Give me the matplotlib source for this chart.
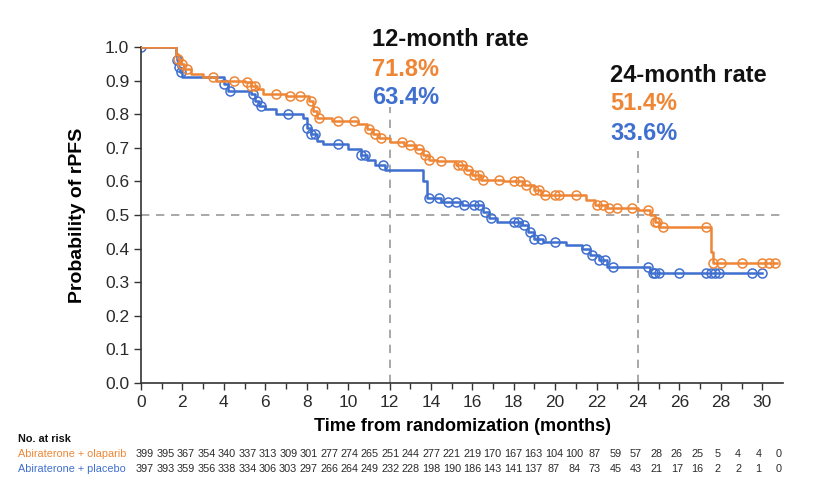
import matplotlib
matplotlib.use("Agg")
import matplotlib.pyplot as plt
import numpy as np

plt.rcParams['font.family'] = ['Liberation Sans', 'DejaVu Sans']

# Kaplan-Meier step data (time in months, survival)
ola_t = [0, 1.7, 1.8, 1.9, 2.1, 2.4, 3.0, 3.6, 5.0, 5.3, 5.6, 5.9, 7.0, 8.1, 8.3, 8.5,
         9.2, 10.5, 10.9, 11.2, 11.5, 12.0, 12.7, 13.3, 13.6, 13.9, 14.3, 15.2, 15.7,
         16.0, 16.4, 17.5, 18.5, 19.0, 19.3, 21.5, 21.9, 22.5, 24.0, 24.6, 24.8, 25.0,
         27.5, 27.6, 30.7]
ola_s = [1.0, 0.98, 0.965, 0.95, 0.935, 0.92, 0.91, 0.90, 0.895, 0.885, 0.875, 0.86,
         0.855, 0.84, 0.81, 0.79, 0.78, 0.77, 0.755, 0.74, 0.728, 0.718, 0.708, 0.695,
         0.68, 0.665, 0.66, 0.65, 0.635, 0.62, 0.605, 0.60, 0.59, 0.575, 0.56, 0.545,
         0.53, 0.52, 0.514, 0.50, 0.48, 0.465, 0.39, 0.357, 0.357]
ola_cens = [1.8, 2.0, 2.2, 3.5, 4.5, 5.1, 5.3, 5.5, 6.5, 7.2, 7.7, 8.2, 8.4, 8.6, 9.5,
            10.3, 11.0, 11.3, 11.6, 12.6, 13.0, 13.4, 13.7, 13.9, 14.5, 15.3, 15.5,
            15.8, 16.1, 16.3, 16.5, 17.3, 18.0, 18.3, 18.6, 19.0, 19.2, 19.5, 20.0,
            20.2, 21.0, 22.0, 22.3, 22.6, 23.0, 23.7, 24.5, 24.8, 24.9, 25.2, 27.3,
            27.6, 28.0, 29.0, 30.0, 30.3, 30.6]

pla_t = [0, 1.7, 1.75, 1.8, 1.9, 2.0, 4.0, 4.2, 5.3, 5.5, 5.7, 6.0, 6.5, 7.8, 8.0, 8.2,
         8.5, 8.8, 10.0, 10.6, 10.9, 11.3, 11.8, 13.6, 13.8, 14.5, 15.5, 16.5, 16.8,
         17.2, 18.4, 18.7, 19.0, 19.4, 20.5, 21.3, 21.7, 22.1, 22.5, 24.6, 30.0]
pla_s = [1.0, 0.98, 0.96, 0.94, 0.925, 0.91, 0.89, 0.87, 0.86, 0.84, 0.825, 0.815,
         0.80, 0.79, 0.76, 0.74, 0.72, 0.71, 0.695, 0.68, 0.665, 0.65, 0.635, 0.60,
         0.55, 0.54, 0.53, 0.51, 0.49, 0.48, 0.47, 0.45, 0.43, 0.42, 0.41, 0.40, 0.38,
         0.365, 0.345, 0.327, 0.327]
pla_cens = [0.0, 1.75, 1.85, 1.95, 4.0, 4.3, 5.4, 5.6, 5.8, 7.1, 8.0, 8.2, 8.4, 9.5,
            10.6, 10.8, 11.7, 13.9, 14.4, 14.8, 15.2, 15.6, 16.1, 16.3, 16.6, 16.9,
            18.0, 18.2, 18.5, 18.8, 19.0, 19.3, 20.0, 21.5, 21.8, 22.1, 22.4, 22.8,
            24.5, 24.7, 24.8, 25.0, 26.0, 27.3, 27.5, 27.7, 27.9, 29.5, 30.0]

ola_risk = [399, 395, 367, 354, 340, 337, 313, 309, 301, 277, 274, 265, 251, 244, 277, 221,
            219, 170, 167, 163, 104, 100, 87, 59, 57, 28, 26, 25, 5, 4, 4, 0]
pla_risk = [397, 393, 359, 356, 338, 334, 306, 303, 297, 266, 264, 249, 232, 228, 198, 190,
            186, 143, 141, 137, 87, 84, 73, 45, 43, 21, 17, 16, 2, 2, 1, 0]

ORANGE = '#EE8636'
BLUE = '#3F6FCF'
W, H = 818, 494


def surv_at(t, s, x):
    idx = np.searchsorted(t, x, side='right') - 1
    return np.asarray(s)[idx]


fig = plt.figure(figsize=(W / 100, H / 100), dpi=100)
ax = fig.add_axes([141 / W, 1 - 383 / H, (783 - 141) / W, (383 - 47) / H])

# reference lines
dash = dict(color='#9a9a9a', lw=1.2, ls=(0, (5, 4)), zorder=1)
ax.plot([0, 31], [0.5, 0.5], **dash)
ax.plot([12, 12], [0, 0.82], **dash)
ax.plot([24, 24], [0, 0.69], **dash)

ax.step(ola_t, ola_s, where='post', color=ORANGE, lw=1.8, zorder=3)
ax.step(pla_t, pla_s, where='post', color=BLUE, lw=1.8, zorder=2)
ax.plot(ola_cens, surv_at(ola_t, ola_s, ola_cens), 'o', mfc='none', mec=ORANGE,
        ms=6.5, mew=1.1, zorder=3)
ax.plot(pla_cens, surv_at(pla_t, pla_s, pla_cens), 'o', mfc='none', mec=BLUE,
        ms=6.5, mew=1.1, zorder=2)

ax.set_xlim(0, 31)
ax.set_ylim(0, 1)
ax.set_xticks(np.arange(0, 31, 2))
ax.set_xticks(np.arange(0, 31, 1), minor=True)
ax.set_yticks(np.arange(0, 1.01, 0.1))
ax.set_yticklabels([f'{v:.1f}' for v in np.arange(0, 1.01, 0.1)])
ax.tick_params(labelsize=12.5, length=5, width=1, color='#333333', labelcolor='#2a2a2a')
ax.tick_params(which='minor', length=4, width=1, color='#333333')
for side in ['top', 'right']:
    ax.spines[side].set_visible(False)
for side in ['left', 'bottom']:
    ax.spines[side].set_linewidth(1.2)
    ax.spines[side].set_color('#333333')

ax.set_ylabel('Probability of rPFS', fontsize=14, fontweight='bold', labelpad=14)
ax.set_xlabel('Time from randomization (months)', fontsize=13, fontweight='bold',
              labelpad=6)

# rate annotations
fig.text(372 / W, 1 - 39 / H, '12-month rate', fontsize=17, fontweight='bold',
         color='#111111', va='center')
fig.text(372 / W, 1 - 69 / H, '71.8%', fontsize=17, fontweight='bold', color=ORANGE,
         va='center')
fig.text(372 / W, 1 - 98 / H, '63.4%', fontsize=17, fontweight='bold', color=BLUE,
         va='center')
fig.text(610 / W, 1 - 76 / H, '24-month rate', fontsize=17, fontweight='bold',
         color='#111111', va='center')
fig.text(610 / W, 1 - 104 / H, '51.4%', fontsize=17, fontweight='bold', color=ORANGE,
         va='center')
fig.text(610 / W, 1 - 133 / H, '33.6%', fontsize=17, fontweight='bold', color=BLUE,
         va='center')

# number at risk table
fig.text(18 / W, 1 - 439 / H, 'No. at risk', fontsize=7.8, fontweight='bold',
         color='#111111', va='center')
fig.text(18 / W, 1 - 454 / H, 'Abiraterone + olaparib', fontsize=7.8, color=ORANGE,
         va='center')
fig.text(18 / W, 1 - 469 / H, 'Abiraterone + placebo', fontsize=7.8, color=BLUE,
         va='center')
xs = np.linspace(145, 779, len(ola_risk))
for x, a, b in zip(xs, ola_risk, pla_risk):
    fig.text(x / W, 1 - 454 / H, str(a), fontsize=7.8, color='#2a2a2a', ha='center',
             va='center')
    fig.text(x / W, 1 - 469 / H, str(b), fontsize=7.8, color='#2a2a2a', ha='center',
             va='center')

fig.savefig('out.png', dpi=100, facecolor='white')
